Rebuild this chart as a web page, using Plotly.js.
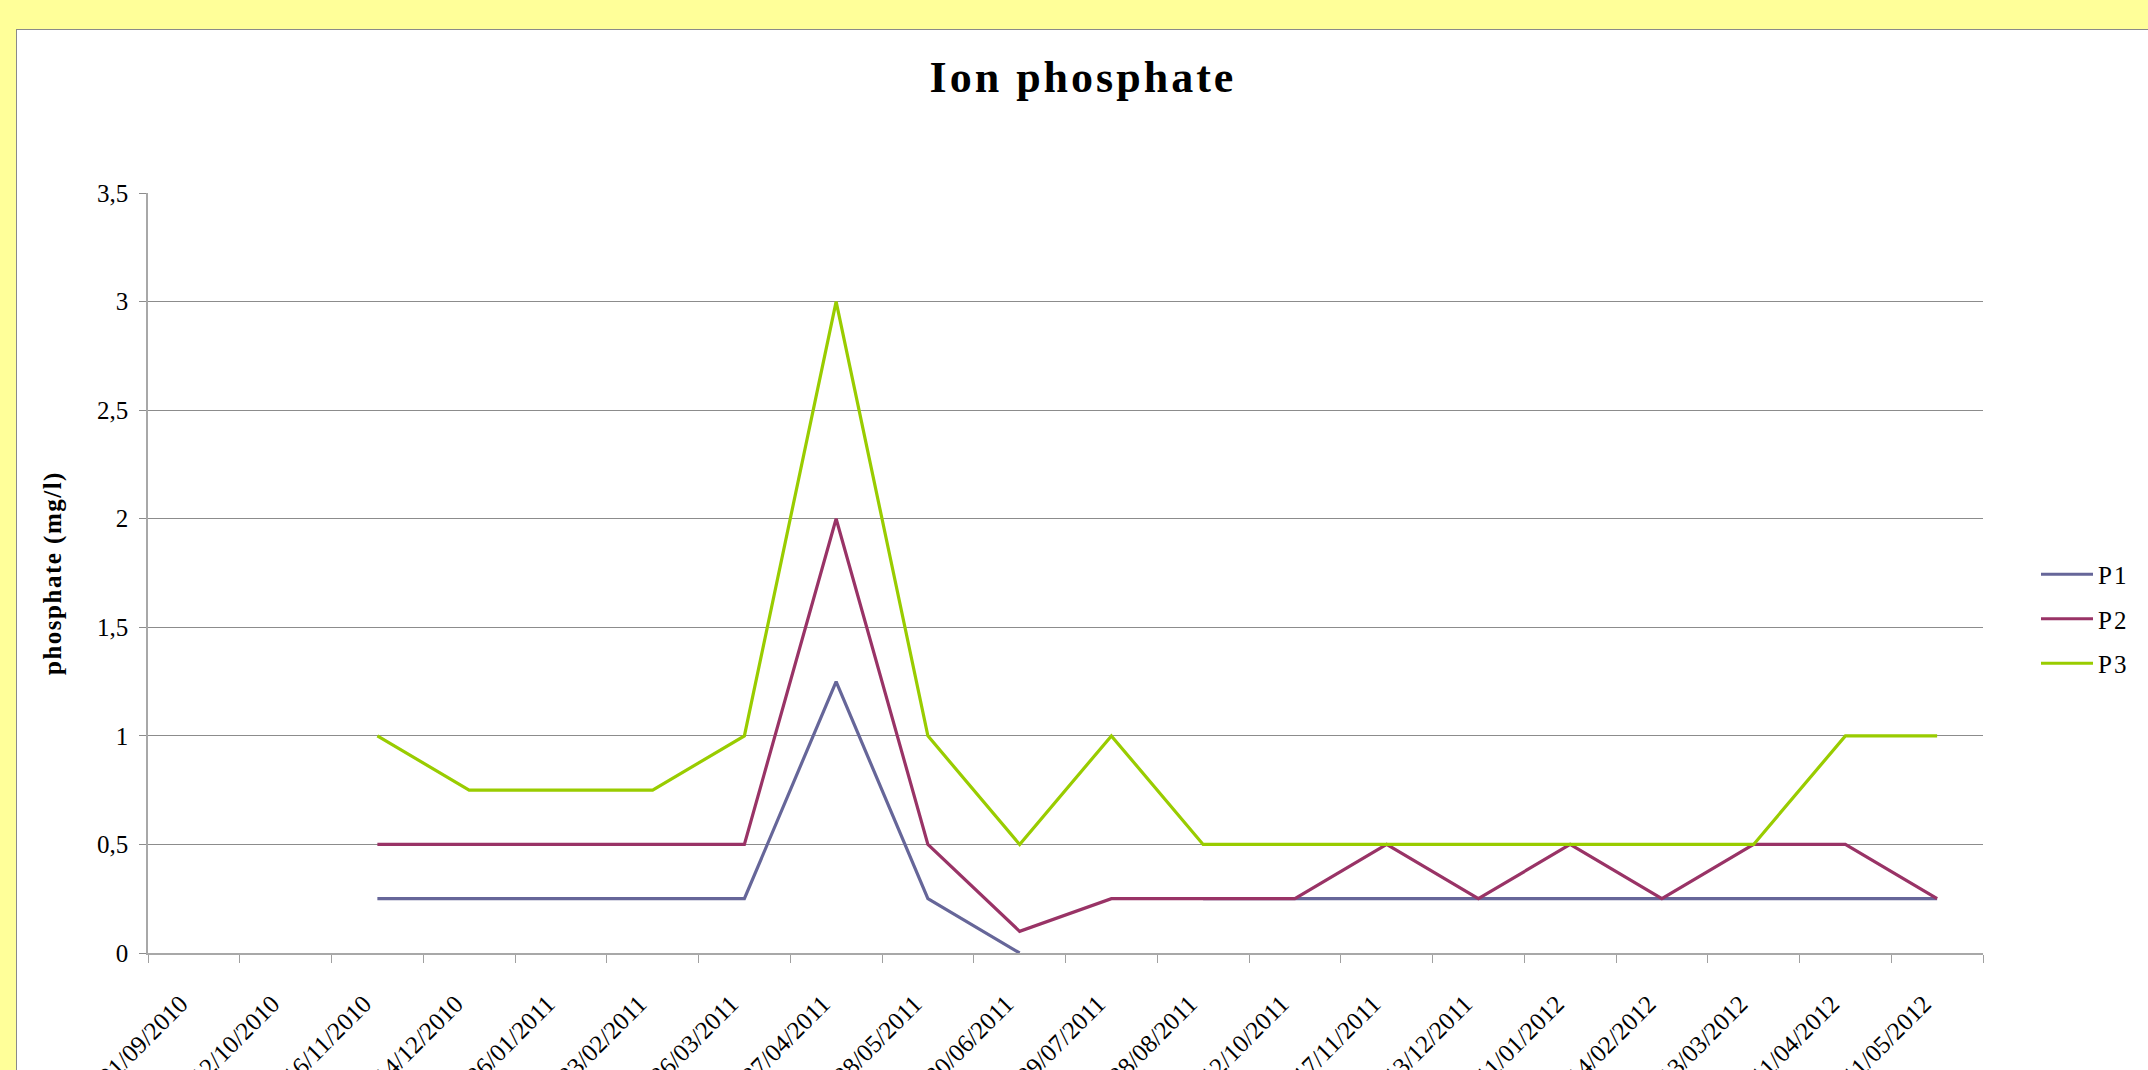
<!DOCTYPE html>
<html>
<head>
<meta charset="utf-8">
<script src="https://cdn.plot.ly/plotly-3.0.1.min.js"></script>
<style>
  html, body { margin: 0; padding: 0; background: #FFFF99; overflow: hidden; width: 2148px; height: 1070px; }
  #frame { position: absolute; left: 16px; top: 29px; width: 2300px; height: 1200px;
           background: #ffffff; border-left: 1px solid #8a8a8a; border-top: 1px solid #8a8a8a; }
  #chart { position: absolute; left: 0; top: 0; }
  .gtitle { letter-spacing: 3px; }
  .ytitle { letter-spacing: 1.5px; }
  .legendtext { letter-spacing: 2px; }
</style>
</head>
<body>
<div id="frame"><div id="chart"></div></div>
<script>
const dates = ["01/09/2010","12/10/2010","16/11/2010","14/12/2010","26/01/2011","23/02/2011","26/03/2011","27/04/2011","28/05/2011","30/06/2011","29/07/2011","28/08/2011","12/10/2011","17/11/2011","13/12/2011","11/01/2012","14/02/2012","13/03/2012","11/04/2012","11/05/2012"];
const p1 = [null,null,0.25,0.25,0.25,0.25,0.25,1.25,0.25,0,null,0.25,0.25,0.25,0.25,0.25,0.25,0.25,0.25,0.25];
const p2 = [null,null,0.5,0.5,0.5,0.5,0.5,2,0.5,0.1,0.25,0.25,0.25,0.5,0.25,0.5,0.25,0.5,0.5,0.25];
const p3 = [null,null,1,0.75,0.75,0.75,1,3,1,0.5,1,0.5,0.5,0.5,0.5,0.5,0.5,0.5,1,1];
const seriesNames = ["P1","P2","P3"];
const seriesColors = ["#666699","#993366","#99CC00"];
const yTicks = [0,0.5,1,1.5,2,2.5,3,3.5];

const W = 2200, H = 1130;
const serif = "Liberation Serif, Times New Roman, serif";

const traces = [p1,p2,p3].map((vals,i) => ({
  type: "scatter", mode: "lines", x: dates, y: vals, name: seriesNames[i],
  legendgroup: seriesNames[i],
  line: { color: seriesColors[i], width: 3.2 },
  connectgaps: false, hoverinfo: "x+y+name"
}));

const layout = {
  width: W, height: H,
  margin: { l: 131, r: W - 1966, t: 163, b: H - 923, pad: 0 },
  paper_bgcolor: "#ffffff", plot_bgcolor: "#ffffff",
  separators: ", ",
  font: { family: serif, color: "#000000", size: 24 },
  title: { text: "Ion phosphate", font: { family: serif, size: 44, weight: "bold", color: "#000" },
           xref: "paper", x: 0.5095, xanchor: "center", yref: "container", y: 1 - 31/H, yanchor: "top" },
  xaxis: {
    type: "category", categoryorder: "array", categoryarray: dates,
    tickmode: "array", tickvals: dates, ticktext: dates.map(d => d + "\u00A0\u00A0\u00A0"),
    range: [-0.5, dates.length - 0.5],
    tickson: "boundaries", ticks: "outside", ticklen: 8, tickcolor: "#a0a0a0", tickwidth: 1,
    showgrid: false, zeroline: false,
    showline: true, linecolor: "#a8a8a8", linewidth: 2,
    tickangle: -45, tickfont: { family: serif, size: 25, color: "#000" },
    ticklabelstandoff: 11, fixedrange: true
  },
  yaxis: {
    range: [0, 3.5], tickvals: yTicks, ticks: "outside", ticklen: 7, tickcolor: "#8c8c8c",
    showgrid: true, gridcolor: "#8c8c8c", gridwidth: 1, zeroline: false,
    showline: true, linecolor: "#a8a8a8", linewidth: 1.5,
    tickfont: { family: serif, size: 25, color: "#000" }, ticklabelstandoff: 6,
    title: { text: "phosphate (mg/l)", font: { family: serif, size: 25, weight: "bold", color: "#000" }, standoff: 28 },
    fixedrange: true
  },
  showlegend: true,
  legend: {
    x: (2019 - 131) / 1835, xanchor: "left", y: (923 - 589) / 760, yanchor: "middle",
    font: { family: serif, size: 25, color: "#000" }, bgcolor: "rgba(0,0,0,0)",
    tracegroupgap: 9, traceorder: "grouped", itemwidth: 52
  }
};

Plotly.newPlot("chart", traces, layout, { displayModeBar: false }).then(gd => {
  // lengthen the legend sample lines to match the reference key
  gd.querySelectorAll(".legend .legendlines path").forEach(p => p.setAttribute("d", "M5,0h52"));
});
</script>
</body>
</html>
